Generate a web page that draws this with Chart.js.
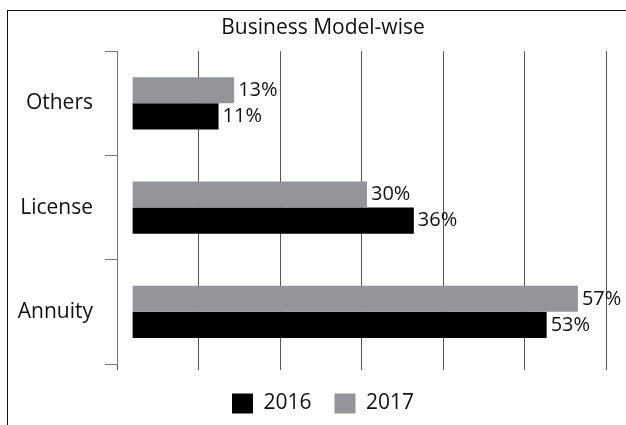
<!DOCTYPE html>
<html>
<head>
<meta charset="utf-8">
<script src="https://cdn.jsdelivr.net/npm/chart.js@4/dist/chart.umd.min.js"></script>
<style>
  html, body { margin: 0; padding: 0; background: #fff; overflow: hidden; }
  #box {
    position: absolute; left: 7px; top: 10px;
    width: 640px; height: 430px;
    border-left: 1px solid #111; border-top: 1px solid #111;
  }
  #chart { display: block; }
</style>
</head>
<body>
<div id="box"><canvas id="chart" width="630" height="414"></canvas></div>
<script>
// data (top to bottom)
const categories = ["Others", "License", "Annuity"];
const values2016 = [11, 36, 53];
const values2017 = [13, 30, 57];
const seriesNames = ["2016", "2017"];

const FONT = "'Open Sans', 'Noto Sans', sans-serif";

// value labels to the right of each bar
const barLabels = {
    id: "barLabels",
    afterDatasetsDraw(chart) {
        const ctx = chart.ctx;
        ctx.save();
        ctx.font = "20px " + FONT;
        ctx.fillStyle = "#111";
        ctx.textAlign = "left";
        ctx.textBaseline = "middle";
        chart.data.datasets.forEach((ds, i) => {
            chart.getDatasetMeta(i).data.forEach((bar, j) => {
                ctx.fillText(ds.data[j] + "%", bar.x + 4, bar.y);
            });
        });
        ctx.restore();
    }
};

const ctx = document.getElementById("chart").getContext("2d");
new Chart(ctx, {
    type: "bar",
    data: {
        labels: categories,
        // 2017 first so it sits above 2016 inside each group
        datasets: [{
            label: seriesNames[1],
            data: values2017,
            backgroundColor: "#939598"
        }, {
            label: seriesNames[0],
            data: values2016,
            backgroundColor: "#000000"
        }]
    },
    options: {
        indexAxis: "y",
        responsive: false,
        animation: false,
        devicePixelRatio: 1,
        layout: { padding: { left: 0, right: 0, top: 0, bottom: 1 } },
        datasets: {
            bar: { categoryPercentage: 0.5, barPercentage: 1.0 }
        },
        scales: {
            x: {
                min: -2,
                max: 60.6,
                afterBuildTicks: (scale) => {
                    const ticks = [];
                    for (let k = 0; k <= 6; k++) {
                        ticks.push({ value: scale.min + (scale.max - scale.min) * k / 6 });
                    }
                    scale.ticks = ticks;
                },
                ticks: { display: false },
                border: { display: false },
                grid: { color: "#555", lineWidth: 1, tickLength: 6 }
            },
            y: {
                afterFit: (scale) => { scale.width = 109; },
                ticks: {
                    color: "#111",
                    padding: 12,
                    font: { family: FONT, size: 21 }
                },
                border: { color: "#777", width: 1 },
                grid: { drawOnChartArea: false, color: "#777", tickLength: 12 }
            },
            // empty spacer on the right so the plot stops short of the title width
            yRight: {
                type: "category",
                position: "right",
                afterFit: (scale) => { scale.width = 32; },
                ticks: { display: false },
                border: { display: false },
                grid: { display: false }
            }
        },
        plugins: {
            title: {
                display: true,
                text: "Business Model-wise",
                color: "#111",
                font: { family: FONT, size: 21, weight: "normal" },
                padding: { top: 4, bottom: 11 }
            },
            legend: {
                position: "bottom",
                reverse: true,
                labels: {
                    color: "#111",
                    boxWidth: 21,
                    boxHeight: 20,
                    padding: 23,
                    font: { family: FONT, size: 21 }
                }
            },
            tooltip: { enabled: false }
        }
    },
    plugins: [barLabels]
});
</script>
</body>
</html>
